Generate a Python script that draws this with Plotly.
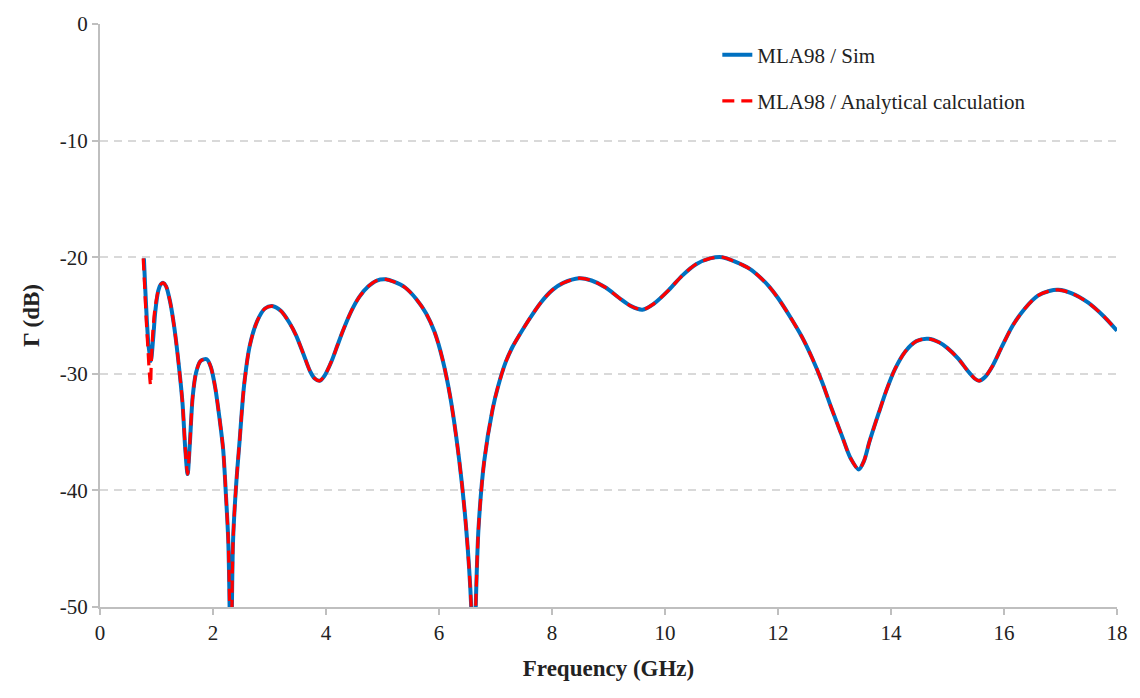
import plotly.graph_objects as go

# Sim (blue) curve: frequency (GHz), reflection coefficient (dB)
sim_freq = [0.777, 0.80, 0.83, 0.86, 0.90, 0.94, 0.98, 1.03, 1.08, 1.12, 1.17, 1.24, 1.32, 1.40,
            1.46, 1.51, 1.55, 1.59, 1.64, 1.70, 1.78, 1.89, 1.96, 2.04, 2.12, 2.18, 2.23, 2.27,
            2.30, 2.315, 2.33, 2.355, 2.41, 2.47, 2.55, 2.65, 2.78, 2.92, 3.06, 3.20, 3.35, 3.47,
            3.60, 3.72, 3.80, 3.89, 3.97, 4.10, 4.20, 4.30, 4.45, 4.59, 4.75, 4.90, 5.06, 5.20, 5.40,
            5.60, 5.77, 5.92, 6.06, 6.20, 6.36, 6.48, 6.57, 6.61, 6.65, 6.70, 6.80, 6.95, 7.05,
            7.18, 7.30, 7.42, 7.60, 7.80, 8.01, 8.20, 8.48, 8.70, 8.95, 9.19, 9.40, 9.60, 9.80,
            10.07, 10.30, 10.55, 10.80, 11.01, 11.25, 11.50, 11.70, 11.84, 12.00, 12.20, 12.42, 12.60, 12.78,
            12.95, 13.13, 13.28, 13.43, 13.52, 13.62, 13.78, 13.92, 14.07, 14.25, 14.45, 14.66,
            14.85, 15.00, 15.19, 15.35, 15.48, 15.56, 15.66, 15.80, 15.96, 16.15, 16.37, 16.60,
            16.80, 16.96, 17.20, 17.49, 17.75, 18.00]
sim_db = [-20.1, -22.6, -25.5, -27.6, -28.9, -27.0, -24.6, -22.9, -22.3, -22.2, -22.5, -23.8, -26.2, -29.5,
          -32.5, -36.5, -38.6, -36.0, -32.0, -29.9, -28.9, -28.75, -29.4, -31.2, -34.0, -36.5, -40.5, -44.3,
          -52.0, -60.0, -52.0, -44.3, -39.5, -35.8, -31.0, -27.6, -25.5, -24.4, -24.2, -24.6, -25.6, -26.7,
          -28.3, -29.8, -30.4, -30.6, -30.2, -28.9, -27.6, -26.3, -24.6, -23.4, -22.5, -22.0, -21.9, -22.1, -22.6,
          -23.6, -24.8, -26.4, -28.7, -32.0, -37.5, -43.2, -50.0, -60.0, -50.0, -43.2, -37.5, -33.0, -31.0,
          -29.0, -27.7, -26.7, -25.3, -23.9, -22.8, -22.2, -21.8, -22.0, -22.6, -23.5, -24.2, -24.5, -24.0,
          -22.8, -21.6, -20.6, -20.1, -20.0, -20.4, -21.0, -21.8, -22.5, -23.5, -25.0, -26.8, -28.6, -30.7,
          -33.0, -35.3, -37.2, -38.2, -37.5, -35.8, -33.4, -31.4, -29.6, -28.1, -27.2, -27.0,
          -27.3, -27.8, -28.7, -29.7, -30.4, -30.6, -30.3, -29.3, -27.7, -25.9, -24.4, -23.3,
          -22.9, -22.8, -23.1, -23.9, -25.0, -26.3]

# Analytical calculation (red dashed): differs only at the low-frequency start
ana_start_freq = [0.765, 0.79, 0.82, 0.85, 0.875, 0.895, 0.905, 0.93, 0.97]
ana_start_db = [-20.1, -22.5, -25.5, -28.0, -30.0, -31.0, -29.5, -26.8, -24.5]
ana_freq = ana_start_freq + [f for f in sim_freq if f >= 1.03]
ana_db = ana_start_db + [d for f, d in zip(sim_freq, sim_db) if f >= 1.03]

x_ticks = list(range(0, 19, 2))
y_ticks = [0, -10, -20, -30, -40, -50]

FONT = "'Liberation Serif', 'Times New Roman', serif"

fig = go.Figure()
fig.add_trace(go.Scatter(
    x=sim_freq, y=sim_db, mode="lines", name="MLA98 / Sim",
    line=dict(color="#0070C0", width=4, shape="spline", smoothing=0.8),
    legendgroup="a"))
fig.add_trace(go.Scatter(
    x=ana_freq, y=ana_db, mode="lines", name="MLA98 / Analytical calculation",
    line=dict(color="#FF0000", width=3.2, dash="12px,7px", shape="spline", smoothing=0.8),
    legendgroup="b"))

fig.update_layout(
    width=1140, height=698,
    margin=dict(l=100, r=21, t=18, b=91),
    paper_bgcolor="white", plot_bgcolor="white",
    font=dict(family=FONT, size=20, color="#222222"),
    legend=dict(x=0.607, y=0.982, xanchor="left", yanchor="top",
                font=dict(family=FONT, size=21, color="#222222"),
                tracegroupgap=16, bgcolor="rgba(0,0,0,0)"),
    showlegend=True,
)
fig.update_xaxes(
    range=[0, 18], tickvals=x_ticks, ticktext=[str(v) for v in x_ticks],
    showgrid=False, zeroline=False,
    showline=True, linecolor="#BFBFBF", linewidth=2,
    ticks="outside", ticklen=6, tickcolor="#BFBFBF", tickwidth=2,
    tickfont=dict(family=FONT, size=21, color="#222222"),
    title=dict(text="<b>Frequency (GHz)</b>", font=dict(family=FONT, size=23, color="#222222"),
               standoff=16),
)
fig.update_yaxes(
    range=[-50, 0], tickvals=y_ticks, ticktext=[str(v) for v in y_ticks],
    showgrid=True, gridcolor="#D9D9D9", griddash="8px,6px", gridwidth=1.5,
    zeroline=False,
    showline=True, linecolor="#BFBFBF", linewidth=2,
    ticks="outside", ticklen=6, tickcolor="#BFBFBF", tickwidth=2,
    tickfont=dict(family=FONT, size=21, color="#222222"),
    title=dict(text="<b>Γ (dB)</b>", font=dict(family=FONT, size=23, color="#222222"),
               standoff=14),
)

fig.write_html("out.html")
